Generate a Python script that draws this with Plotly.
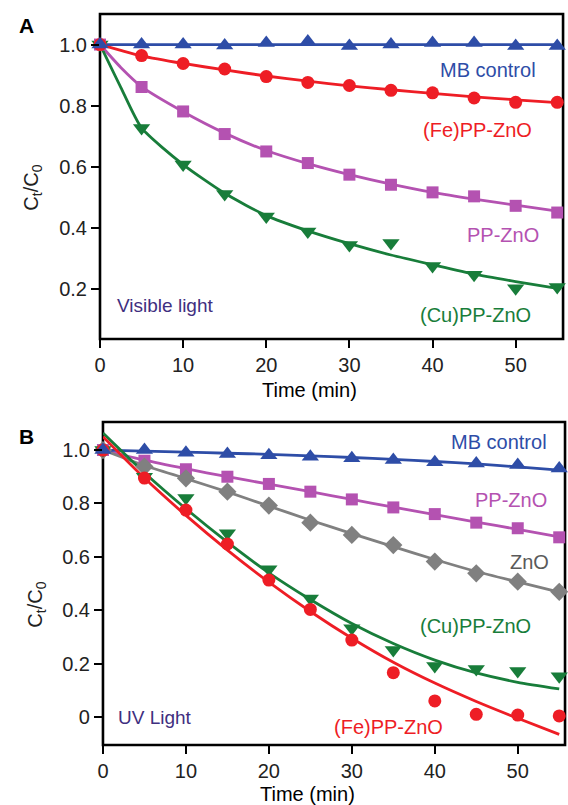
import plotly.graph_objects as go

W, H = 568, 805

# ---------------- data ----------------
time = [0, 5, 10, 15, 20, 25, 30, 35, 40, 45, 50, 55]

# Panel A (visible light) – measured points
a_mb = [1.0, 1.0, 1.0, 0.997, 1.005, 1.01, 0.995, 1.0, 1.005, 1.005, 0.995, 0.995]
a_fe = [1.0, 0.964, 0.938, 0.92, 0.895, 0.876, 0.866, 0.85, 0.842, 0.825, 0.811, 0.811]
a_pp = [1.0, 0.861, 0.781, 0.707, 0.65, 0.612, 0.574, 0.541, 0.516, 0.503, 0.472, 0.45]
a_cu = [1.0, 0.727, 0.607, 0.511, 0.437, 0.388, 0.344, 0.35, 0.275, 0.246, 0.202, 0.206]

# Panel A fitted curves
a_fit_t = [0, 2.5, 5, 10, 15, 20, 25, 30, 35, 40, 45, 50, 55]
a_mb_fit = [1.0, 1.0, 1.0, 1.0, 1.0, 1.0, 1.0, 1.0, 1.0, 1.0, 1.0, 1.0, 1.0]
a_fe_fit = [1.0, 0.981, 0.963, 0.938, 0.917, 0.897, 0.88, 0.865, 0.852, 0.84, 0.829, 0.819, 0.81]
a_pp_fit = [1.0, 0.925, 0.862, 0.78, 0.71, 0.653, 0.61, 0.574, 0.543, 0.516, 0.494, 0.474, 0.455]
a_cu_fit = [1.0, 0.86, 0.727, 0.607, 0.513, 0.44, 0.39, 0.348, 0.311, 0.279, 0.248, 0.224, 0.202]

# Panel B (UV light) – measured points
b_mb = [1.0, 1.0, 0.99, 0.985, 0.98, 0.975, 0.969, 0.963, 0.954, 0.95, 0.944, 0.931]
b_pp = [1.0, 0.96, 0.928, 0.9, 0.873, 0.844, 0.815, 0.785, 0.76, 0.728, 0.707, 0.673]
b_zno = [1.0, 0.938, 0.894, 0.844, 0.792, 0.728, 0.682, 0.644, 0.582, 0.538, 0.507, 0.469]
b_cu = [1.0, 0.9, 0.82, 0.688, 0.553, 0.444, 0.332, 0.251, 0.191, 0.18, 0.172, 0.153]
b_fe = [1.0, 0.895, 0.775, 0.648, 0.513, 0.403, 0.288, 0.166, 0.06, 0.01, 0.007, 0.004]

# Panel B fitted curves
b_mb_fit = [1.0, 0.996, 0.992, 0.988, 0.984, 0.978, 0.972, 0.965, 0.957, 0.948, 0.937, 0.925]
b_pp_fit = [1.0, 0.962, 0.93, 0.9, 0.872, 0.844, 0.815, 0.786, 0.758, 0.73, 0.703, 0.675]
b_zno_fit = [1.0, 0.942, 0.893, 0.843, 0.79, 0.737, 0.687, 0.638, 0.59, 0.545, 0.506, 0.468]
b_cu_fit = [1.064, 0.915, 0.78, 0.655, 0.54, 0.44, 0.35, 0.275, 0.213, 0.165, 0.13, 0.105]
b_fe_fit = [1.05, 0.895, 0.755, 0.625, 0.505, 0.395, 0.295, 0.205, 0.127, 0.058, -0.005, -0.065]

ticks_a = [0.2, 0.4, 0.6, 0.8, 1.0]
ticks_a_text = ["0.2", "0.4", "0.6", "0.8", "1.0"]
ticks_b = [0, 0.2, 0.4, 0.6, 0.8, 1.0]
ticks_b_text = ["0", "0.2", "0.4", "0.6", "0.8", "1.0"]
xticks = [0, 10, 20, 30, 40, 50]

# ---------------- style ----------------
BLUE = "#2E4DA7"
RED = "#EE1D25"
MAG = "#B452B1"
GREEN = "#187D3A"
GRAY = "#808080"
FONT = "Liberation Sans, Arial, sans-serif"
LW = 2.8


def px(x, y):
    return x / W, 1 - y / H


fig = go.Figure()


def line(t, y, color, xa, ya):
    fig.add_trace(go.Scatter(x=t, y=y, mode="lines", line=dict(color=color, width=LW, shape="spline", smoothing=0.6),
                             xaxis=xa, yaxis=ya, showlegend=False, hoverinfo="skip", cliponaxis=True))


def pts(t, y, color, symbol, size, xa, ya):
    fig.add_trace(go.Scatter(x=t, y=y, mode="markers",
                             marker=dict(color=color, symbol=symbol, size=size, line=dict(width=0)),
                             xaxis=xa, yaxis=ya, showlegend=False, cliponaxis=False))


# Panel A
line(a_fit_t, a_pp_fit, MAG, "x", "y")
line(a_fit_t, a_cu_fit, GREEN, "x", "y")
line(a_fit_t, a_fe_fit, RED, "x", "y")
line(a_fit_t, a_mb_fit, BLUE, "x", "y")
pts(time, a_cu, GREEN, "triangle-down", 15, "x", "y")
pts(time, a_pp, MAG, "square", 12, "x", "y")
pts(time, a_fe, RED, "circle", 13, "x", "y")
pts(time, a_mb, BLUE, "triangle-up", 15, "x", "y")

# Panel B
line(time, b_pp_fit, MAG, "x2", "y2")
line(time, b_zno_fit, GRAY, "x2", "y2")
line(time, b_mb_fit, BLUE, "x2", "y2")
line(time, b_cu_fit, GREEN, "x2", "y2")
line(time, b_fe_fit, RED, "x2", "y2")
pts(time, b_pp, MAG, "square", 12, "x2", "y2")
pts(time, b_zno, GRAY, "diamond", 14, "x2", "y2")
pts(time, b_cu, GREEN, "triangle-down", 15, "x2", "y2")
pts(time, b_fe, RED, "circle", 13, "x2", "y2")
pts(time, b_mb, BLUE, "triangle-up", 15, "x2", "y2")

axis_common = dict(showgrid=False, zeroline=False, showline=False,
                   ticks="outside", ticklen=8, tickwidth=2, tickcolor="black",
                   tickfont=dict(family=FONT, size=20, color="#222222"))

fig.update_layout(
    width=W, height=H,
    margin=dict(l=0, r=0, t=0, b=0),
    paper_bgcolor="white", plot_bgcolor="white",
    xaxis=dict(domain=[95 / W, 563 / W], range=[0, 55.7], tickvals=xticks, anchor="y", **axis_common),
    yaxis=dict(domain=[1 - 339 / H, 1 - 14 / H], range=[0.036, 1.10], tickvals=ticks_a, ticktext=ticks_a_text,
               anchor="x", **axis_common),
    xaxis2=dict(domain=[98 / W, 565 / W], range=[0, 55.7], tickvals=xticks, anchor="y2", **axis_common),
    yaxis2=dict(domain=[1 - 745 / H, 1 - 422 / H], range=[-0.105, 1.105], tickvals=ticks_b, ticktext=ticks_b_text,
                anchor="x2", **axis_common),
)

# frame boxes
for xr, yr in (("x domain", "y domain"), ("x2 domain", "y2 domain")):
    fig.add_shape(type="rect", xref=xr, yref=yr, x0=0, x1=1, y0=0, y1=1,
                  line=dict(color="black", width=2.6), fillcolor="rgba(0,0,0,0)", layer="below")

annots = [
    ("<b>A</b>", 21, 26, "black", 21, 0),
    ("<b>B</b>", 21, 436, "black", 21, 0),
    ("Time (min)", 307, 390, "black", 20, 0),
    ("Time (min)", 305, 794, "black", 20, 0),
    ("C<sub>t</sub>/C<sub>0</sub>", 27, 188, "#222222", 20, -90),
    ("C<sub>t</sub>/C<sub>0</sub>", 30, 605, "#222222", 20, -90),
    ("MB control", 487, 70, BLUE, 20, 0),
    ("(Fe)PP-ZnO", 477, 130, RED, 20, 0),
    ("PP-ZnO", 502, 235, MAG, 20, 0),
    ("(Cu)PP-ZnO", 475, 315, GREEN, 20, 0),
    ("Visible light", 161, 306, "#3F2F80", 19, 0),
    ("MB control", 498, 442, BLUE, 20, 0),
    ("PP-ZnO", 510, 500, MAG, 20, 0),
    ("ZnO", 529, 562, "#5A5A5A", 20, 0),
    ("(Cu)PP-ZnO", 475, 626, GREEN, 20, 0),
    ("(Fe)PP-ZnO", 387, 727, RED, 20, 0),
    ("UV Light", 151, 717, "#3F2F80", 19, 0),
]
for text, x, y, color, size, ang in annots:
    xp, yp = px(x, y)
    fig.add_annotation(text=text, x=xp, y=yp, xref="paper", yref="paper", showarrow=False,
                       xanchor="center", yanchor="middle", textangle=ang,
                       font=dict(family=FONT, size=size, color=color))

fig.write_html("out.html", config={"displayModeBar": False},
               post_script="document.body.style.margin='0';document.body.style.overflow='hidden';"
                           "document.documentElement.style.overflow='hidden';")
